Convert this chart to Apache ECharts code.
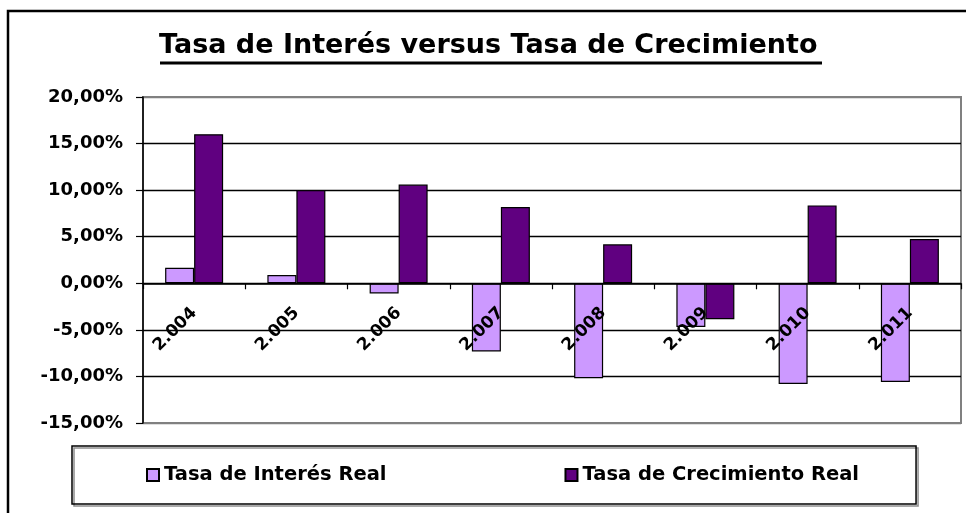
<!DOCTYPE html>
<html>
<head>
<meta charset="utf-8">
<script src="https://cdn.jsdelivr.net/npm/echarts@6/dist/echarts.min.js"></script>
<style>
  html, body { margin: 0; padding: 0; background: #fff; }
  #chart { width: 966px; height: 513px; }
</style>
</head>
<body>
<div id="chart"></div>
<script>
// datos del grafico
var years = ['2.004', '2.005', '2.006', '2.007', '2.008', '2.009', '2.010', '2.011'];
var tasaInteres = [1.67, 0.89, -1.1, -7.33, -10.2, -4.7, -10.8, -10.6];
var tasaCrecimiento = [16.0, 10.0, 10.6, 8.18, 4.18, -3.86, 8.36, 4.75];
var seriesNames = ['Tasa de Interés Real', 'Tasa de Crecimiento Real'];

var FONT = 'DejaVu Sans';
var Y_MIN = -15, Y_MAX = 20;
var GRID_TOP = 97, GRID_BOTTOM = 90, H = 513;

// distancia del eje x (en 0) al borde inferior del grid
var plotH = H - GRID_TOP - GRID_BOTTOM;
var zeroOffset = plotH * (0 - Y_MIN) / (Y_MAX - Y_MIN);

var chart = echarts.init(document.getElementById('chart'));

var option = {
  animation: false,
  backgroundColor: '#fff',
  title: {
    text: 'Tasa de Interés versus Tasa de Crecimiento',
    left: 159,
    top: 32,
    padding: 0,
    textStyle: { fontFamily: FONT, fontWeight: 'bold', fontSize: 27, color: '#000' }
  },
  graphic: [
    // marco exterior
    { type: 'rect', shape: { x: 8, y: 11, width: 1000, height: 600 },
      style: { fill: 'none', stroke: '#000', lineWidth: 2.5 }, z: 100 },
    // subrayado del titulo
    { type: 'line', shape: { x1: 160, y1: 63, x2: 822, y2: 63 },
      style: { stroke: '#000', lineWidth: 3 } }
  ],
  legend: {
    left: 72,
    top: 446,
    padding: [19, 57, 19, 74],
    itemGap: 178,
    itemWidth: 12,
    itemHeight: 12,
    icon: 'rect',
    borderColor: '#000',
    borderWidth: 1.5,
    shadowColor: 'rgba(0,0,0,0.45)',
    shadowOffsetX: 2,
    shadowOffsetY: 2,
    textStyle: { fontFamily: FONT, fontWeight: 'bold', fontSize: 19.5, color: '#000' }
  },
  grid: {
    left: 143,
    right: 5,
    top: GRID_TOP,
    bottom: GRID_BOTTOM,
    show: true,
    borderColor: '#808080',
    borderWidth: 2
  },
  xAxis: {
    type: 'category',
    data: years,
    offset: -zeroOffset,
    z: 10,
    axisLine: { onZero: false, lineStyle: { color: '#000', width: 1.5 } },
    axisTick: { show: true, length: 6, lineStyle: { color: '#000', width: 1.2 } },
    axisLabel: {
      rotate: 45,
      margin: 27,
      interval: 0,
      fontFamily: FONT,
      fontWeight: 'bold',
      fontSize: 17,
      color: '#000'
    },
    splitLine: { show: false }
  },
  yAxis: {
    type: 'value',
    min: Y_MIN,
    max: Y_MAX,
    interval: 5,
    axisLine: { show: true, lineStyle: { color: '#000', width: 1.5 } },
    axisTick: { show: true, length: 7, lineStyle: { color: '#000', width: 1.2 } },
    axisLabel: {
      margin: 20,
      fontFamily: FONT,
      fontWeight: 'bold',
      fontSize: 18,
      color: '#000',
      formatter: function (v) { return v.toFixed(2).replace('.', ',') + '%'; }
    },
    splitLine: {
      show: true,
      lineStyle: {
        color: ['#808080', '#000', '#000', '#000', '#000', '#000', '#000', '#808080'],
        width: 1.3
      }
    }
  },
  series: [
    {
      name: seriesNames[0],
      type: 'bar',
      data: tasaInteres,
      barWidth: 29,
      barGap: '0%',
      itemStyle: { color: '#CC99FF', borderColor: '#000', borderWidth: 1.2 }
    },
    {
      name: seriesNames[1],
      type: 'bar',
      data: tasaCrecimiento,
      barWidth: 29,
      barGap: '0%',
      itemStyle: { color: '#600080', borderColor: '#000', borderWidth: 1.2 }
    }
  ]
};

chart.setOption(option);
</script>
</body>
</html>
